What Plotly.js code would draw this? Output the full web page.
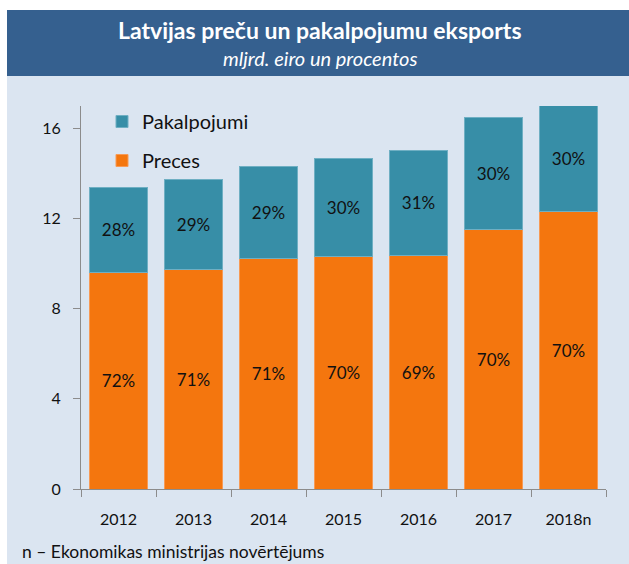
<!DOCTYPE html>
<html>
<head>
<meta charset="utf-8">
<script src="https://cdn.plot.ly/plotly-3.0.1.min.js"></script>
<style>html,body{margin:0;padding:0;background:#fff;}#chart{width:629px;height:564px;}</style>
</head>
<body>
<div id="chart"></div>
<script>
const years = ['2012', '2013', '2014', '2015', '2016', '2017', '2018n'];
const preces = [9.62, 9.76, 10.21, 10.32, 10.38, 11.51, 12.31];
const pakalpojumi = [3.77, 3.96, 4.10, 4.36, 4.64, 4.99, 4.71];
const precesPct = ['72%', '71%', '71%', '70%', '69%', '70%', '70%'];
const pakalpojumiPct = ['28%', '29%', '29%', '30%', '31%', '30%', '30%'];
const yTicks = [0, 4, 8, 12, 16];

const W = 629, H = 564;
const L = 81, R = 23, T = 106, B = 75;
const pw = W - L - R, ph = H - T - B;
const px = x => (x - L) / pw;
const py = y => (H - B - y) / ph;

const FONT = 'Lato, "Open Sans", sans-serif';

const traces = [
  {
    type: 'bar', name: 'Preces', x: years, y: preces, text: precesPct,
    texttemplate: '%{text}', textposition: 'inside', insidetextanchor: 'middle',
    textangle: 0, textfont: {color: '#111', size: 17, family: FONT},
    marker: {color: '#F4760E', line: {color: '#F79A55', width: 1}},
    legendgroup: 'preces', legendrank: 2, hoverinfo: 'none'
  },
  {
    type: 'bar', name: 'Pakalpojumi', x: years, y: pakalpojumi, text: pakalpojumiPct,
    texttemplate: '%{text}', textposition: 'inside', insidetextanchor: 'middle',
    textangle: 0, textfont: {color: '#111', size: 17, family: FONT},
    marker: {color: '#378EA7', line: {color: '#6FAFC3', width: 1}},
    legendgroup: 'pakalpojumi', legendrank: 1, hoverinfo: 'none'
  }
];

const layout = {
  width: W, height: H,
  margin: {l: L, r: R, t: T, b: B, pad: 0},
  paper_bgcolor: '#ffffff',
  plot_bgcolor: 'rgba(0,0,0,0)',
  barmode: 'stack',
  bargap: 0.227,
  font: {family: FONT, color: '#111', size: 16},
  showlegend: true,
  legend: {
    x: px(102), y: py(102), xanchor: 'left', yanchor: 'top',
    bgcolor: 'rgba(0,0,0,0)', borderwidth: 0,
    traceorder: 'grouped', tracegroupgap: 10,
    font: {size: 20, family: FONT, color: '#111'}
  },
  xaxis: {
    type: 'category', showgrid: false, zeroline: false,
    showline: true, linecolor: '#8c8c8c', linewidth: 1,
    ticks: 'outside', ticklen: 7, tickcolor: '#8c8c8c', tickson: 'boundaries',
    tickfont: {size: 16, family: FONT, color: '#111'},
    ticklabelstandoff: 16,
    fixedrange: true
  },
  yaxis: {
    range: [0, 17], tickvals: yTicks, ticktext: yTicks.map(String),
    showgrid: false, zeroline: false,
    showline: true, linecolor: '#8c8c8c', linewidth: 1,
    ticks: 'outside', ticklen: 7, tickcolor: '#8c8c8c',
    tickfont: {size: 16, family: FONT, color: '#111'},
    ticklabelstandoff: 9,
    fixedrange: true
  },
  shapes: [
    {type: 'rect', xref: 'paper', yref: 'paper', layer: 'below',
     x0: px(7), x1: px(629), y0: py(564), y1: py(76),
     fillcolor: '#DBE5F1', line: {width: 0}},
    {type: 'rect', xref: 'paper', yref: 'paper', layer: 'below',
     x0: px(7), x1: px(629), y0: py(76), y1: py(10),
     fillcolor: '#35608F', line: {width: 0}}
  ],
  annotations: [
    {xref: 'paper', yref: 'paper', x: px(320), y: py(30), xanchor: 'center', yanchor: 'middle',
     text: '<b>Latvijas preču un pakalpojumu eksports</b>', showarrow: false,
     font: {size: 23, color: '#ffffff', family: FONT}},
    {xref: 'paper', yref: 'paper', x: px(320), y: py(58), xanchor: 'center', yanchor: 'middle',
     text: '<i>mljrd. eiro un procentos</i>', showarrow: false,
     font: {size: 20, color: '#ffffff', family: FONT}},
    {xref: 'paper', yref: 'paper', x: px(20), y: py(551), xanchor: 'left', yanchor: 'middle',
     text: 'n – Ekonomikas ministrijas novērtējums', showarrow: false,
     font: {size: 17.5, color: '#111', family: FONT}}
  ]
};

Plotly.newPlot('chart', traces, layout, {displayModeBar: false, staticPlot: true});
</script>
</body>
</html>
